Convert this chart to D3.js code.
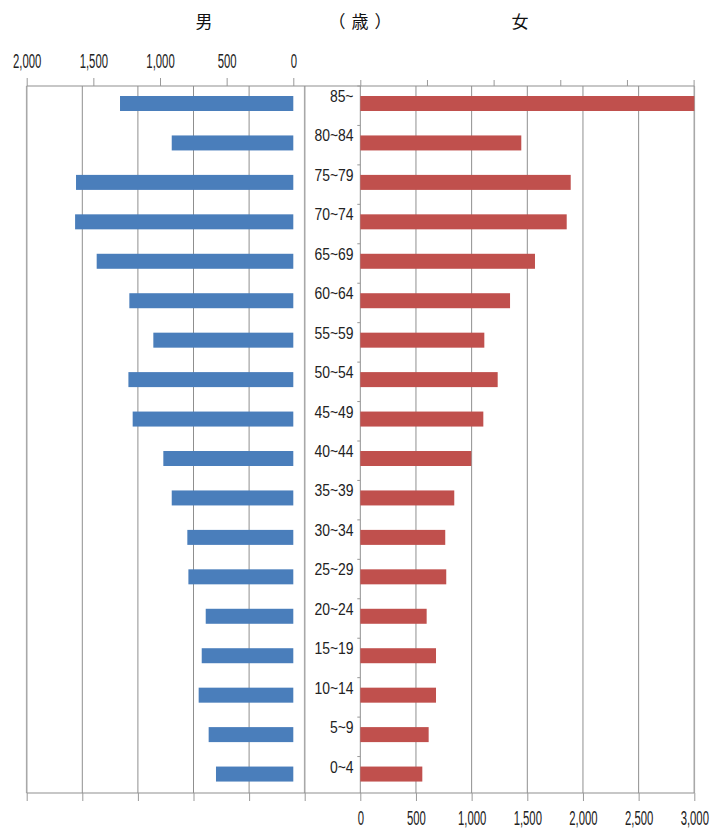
<!DOCTYPE html>
<html>
<head>
<meta charset="utf-8">
<script src="https://cdn.jsdelivr.net/npm/d3@7/dist/d3.min.js"></script>
<style>
  html, body { margin: 0; padding: 0; background: #fff; }
  svg { display: block; }
  .num { font-family: "Liberation Sans", Arial, sans-serif; fill: #222; }
  .cjk { font-family: "Noto Sans CJK JP", "Noto Sans CJK SC", sans-serif; fill: #111; }
</style>
</head>
<body>
<svg id="chart" width="720" height="829"></svg>
<script>
// Population by five-year age group, male (left) and female (right)
const ageGroups = ["85~", "80~84", "75~79", "70~74", "65~69", "60~64", "55~59", "50~54", "45~49",
                   "40~44", "35~39", "30~34", "25~29", "20~24", "15~19", "10~14", "5~9", "0~4"];
const maleValues = [1300, 912, 1630, 1637, 1475, 1230, 1050, 1237, 1205,
                    975, 912, 795, 787, 657, 687, 710, 635, 580];
const femaleValues = [3000, 1446, 1890, 1854, 1569, 1345, 1114, 1234, 1105,
                      997, 844, 763, 772, 596, 680, 680, 614, 557];
const maleTicks = [0, 500, 1000, 1500, 2000];
const femaleTicks = [0, 500, 1000, 1500, 2000, 2500, 3000];
const secondaryTicks = [0, 500, 1000, 1500, 2000, 2500];
const headers = { male: "男", age: "（歳）", female: "女" };

const svg = d3.select("#chart");
const fmt = d3.format(",");

const plotTop = 86, plotBottom = 793;

// Scales
const xMale = d3.scaleLinear().domain([0, 2000]).range([293.3, 26.7]);
const xMaleGrid = d3.scaleLinear().domain([0, 2500]).range([304.7, 26.7]);
const xFemale = d3.scaleLinear().domain([0, 3000]).range([360.3, 694.3]);
const xFemaleTop = d3.scaleLinear().domain([0, 2500]).range([360.3, 693.6]);
const y = d3.scaleBand().domain(ageGroups).range([86, 796]);

const gridColor = "#8f8f8f";

// Vertical gridlines
svg.append("g").selectAll("line").data(secondaryTicks).join("line")
  .attr("x1", d => xMaleGrid(d)).attr("x2", d => xMaleGrid(d))
  .attr("y1", plotTop).attr("y2", plotBottom)
  .attr("stroke", d => (d === 2500 || d === 0) ? "#a8a8a8" : gridColor)
  .attr("stroke-width", d => (d === 2500 || d === 0) ? 1.6 : 1);

svg.append("g").selectAll("line").data(femaleTicks).join("line")
  .attr("x1", d => xFemale(d)).attr("x2", d => xFemale(d))
  .attr("y1", plotTop).attr("y2", plotBottom)
  .attr("stroke", d => d === 3000 ? "#a8a8a8" : gridColor)
  .attr("stroke-width", d => d === 3000 ? 1.6 : 1);

// Horizontal frame lines
[plotTop, plotBottom].forEach(yy => {
  svg.append("line")
    .attr("x1", xMaleGrid(2500)).attr("x2", xFemale(3000))
    .attr("y1", yy).attr("y2", yy)
    .attr("stroke", gridColor).attr("stroke-width", 1.2);
});

// Bars
const data = ageGroups.map((g, i) => ({ g, m: maleValues[i], f: femaleValues[i] }));
const barOffset = 10, barH = 15;

svg.append("g").selectAll("rect").data(data).join("rect")
  .attr("x", d => xMale(d.m))
  .attr("width", d => xMale(0) - xMale(d.m))
  .attr("y", d => y(d.g) + barOffset)
  .attr("height", barH)
  .attr("fill", "#4a7ebb");

svg.append("g").selectAll("rect").data(data).join("rect")
  .attr("x", xFemale(0))
  .attr("width", d => xFemale(d.f) - xFemale(0))
  .attr("y", d => y(d.g) + barOffset)
  .attr("height", barH)
  .attr("fill", "#c0504d");

// Small ticks on the category axis
svg.append("g").selectAll("line").data(ageGroups).join("line")
  .attr("x1", xFemale(0) - 3).attr("x2", xFemale(0))
  .attr("y1", d => y(d)).attr("y2", d => y(d))
  .attr("stroke", "#999");

// Category labels
svg.append("g").selectAll("g").data(ageGroups).join("g")
  .attr("transform", d => `translate(353.5,${y(d) + 16})`)
  .append("text")
  .attr("class", "num")
  .attr("text-anchor", "end")
  .attr("font-size", 16)
  .attr("transform", "scale(0.87,1)")
  .text(d => d);

// Axes
function styleAxis(g, labelled, size, sx) {
  g.select(".domain").remove();
  g.selectAll(".tick line").attr("stroke", "#999");
  const t = g.selectAll(".tick text")
    .attr("class", "num")
    .attr("font-size", size)
    .attr("transform", `scale(${sx},1)`)
    .attr("fill", "#222");
  if (!labelled) t.remove();
}

svg.append("g")
  .attr("transform", `translate(0,${plotTop})`)
  .call(d3.axisTop(xMale).tickValues(maleTicks).tickFormat(fmt).tickSize(8).tickPadding(10))
  .call(g => styleAxis(g, true, 21, 0.54));

svg.append("g")
  .attr("transform", `translate(0,${plotTop})`)
  .call(d3.axisTop(xFemaleTop).tickValues(secondaryTicks).tickSize(6))
  .call(g => styleAxis(g, false, 21, 0.54));

svg.append("g")
  .attr("transform", `translate(0,${plotBottom})`)
  .call(d3.axisBottom(xMaleGrid).tickValues(secondaryTicks).tickSize(8))
  .call(g => styleAxis(g, false, 21, 0.54));

svg.append("g")
  .attr("transform", `translate(0,${plotBottom})`)
  .call(d3.axisBottom(xFemale).tickValues(femaleTicks).tickFormat(fmt).tickSize(8).tickPadding(10))
  .call(g => styleAxis(g, true, 19.5, 0.58));

// Headers
svg.append("text").attr("class", "cjk").attr("x", 204).attr("y", 28)
  .attr("text-anchor", "middle").attr("font-size", 17).text(headers.male);
svg.append("text").attr("class", "cjk").attr("x", 363).attr("y", 28)
  .attr("text-anchor", "middle").attr("font-size", 17)
  .attr("letter-spacing", 6).text(headers.age);
svg.append("text").attr("class", "cjk").attr("x", 520).attr("y", 28)
  .attr("text-anchor", "middle").attr("font-size", 17).text(headers.female);
</script>
</body>
</html>
